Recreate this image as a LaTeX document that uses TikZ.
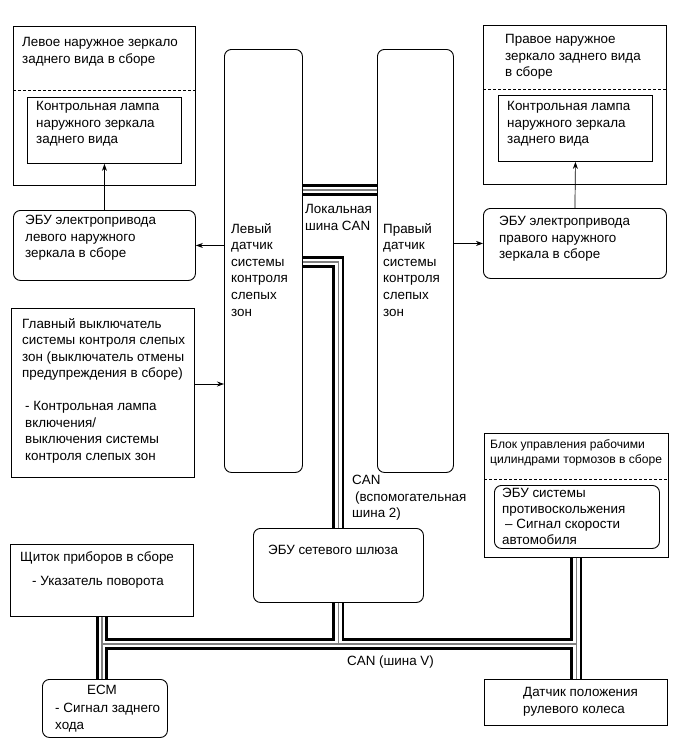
\documentclass[tikz,border=0pt]{standalone}
\usepackage{fontspec}
\setmainfont{Liberation Sans}
\usetikzlibrary{calc,arrows.meta}

\tikzset{
  box/.style={draw, line width=0.9pt, anchor=north west, inner sep=0pt},
  rbox/.style={box, rounded corners=7pt},
  txt/.style={anchor=north west, inner sep=0pt, align=left, font=\fontsize{13.4}{16.6}\selectfont},
  tighttxt/.style={txt, font=\fontsize{13.4}{15.6}\selectfont},
  smalltxt/.style={txt, font=\fontsize{12.1}{15.5}\selectfont},
  sep/.style={dash pattern=on 3pt off 2pt, line width=0.8pt},
  link/.style={->, line width=0.7pt},
}

\begin{document}
\begin{tikzpicture}[x=1pt,y=-1pt,>={Stealth[length=7pt,width=5pt]}]
        \useasboundingbox (0,0) rectangle (690,756);

        % --- 1. Units ---
        \node[box, minimum width=182pt, minimum height=159pt] (lmirror) at (13,26) {};
        \node[box, minimum width=154pt, minimum height=66pt] (llamp) at (27,97) {};
        \node[rbox, minimum width=182pt, minimum height=70pt] (lecu) at (13,210) {};
        \node[rbox, minimum width=78pt, minimum height=423pt] (lbsm) at (224,49) {};
        \node[rbox, minimum width=76pt, minimum height=423pt] (rbsm) at (377,49) {};
        \node[box, minimum width=183pt, minimum height=159pt] (rmirror) at (483,25) {};
        \node[box, minimum width=154pt, minimum height=66pt] (rlamp) at (498,95) {};
        \node[rbox, minimum width=183pt, minimum height=70pt] (recu) at (483,208) {};
        \node[box, minimum width=183pt, minimum height=169pt] (sw) at (11,308) {};
        \node[rbox, minimum width=170pt, minimum height=74pt] (gw) at (253,528) {};
        \node[box, minimum width=183pt, minimum height=72pt] (cluster) at (10,544) {};
        \node[rbox, minimum width=125pt, minimum height=58pt] (ecm) at (42,679) {};
        \node[box, minimum width=184pt, minimum height=124pt] (brake) at (484,433) {};
        \node[rbox, minimum width=165pt, minimum height=63pt] (abs) at (494,485) {};
        \node[box, minimum width=183pt, minimum height=46pt] (steer) at (484,679) {};

        % Dashed separators
        \coordinate (ldash) at (0,90);
        \coordinate (rdash) at (0,89);
        \coordinate (bdash) at (0,479);
        \draw[sep] (lmirror.west |- ldash) -- (lmirror.east |- ldash);
        \draw[sep] (rmirror.west |- rdash) -- (rmirror.east |- rdash);
        \draw[sep] (brake.west |- bdash) -- (brake.east |- bdash);

        % --- 2. Texts ---
        \node[txt] (lmirrortxt) at (22,37) {Левое наружное зеркало\\заднего вида в сборе};
        \node[txt] (llamptxt) at (36,101) {Контрольная лампа\\наружного зеркала\\заднего вида};
        \node[txt] (lecutxt) at (25,215) {ЭБУ электропривода\\левого наружного\\зеркала в сборе};
        \node[txt] (lbsmtxt) at (231,223) {Левый\\датчик\\системы\\контроля\\слепых\\зон};
        \node[txt] (rbsmtxt) at (383,223) {Правый\\датчик\\системы\\контроля\\слепых\\зон};
        \node[txt] (rmirrortxt) at (505,34) {Правое наружное\\зеркало заднего вида\\в сборе};
        \node[txt] (rlamptxt) at (507,101) {Контрольная лампа\\наружного зеркала\\заднего вида};
        \node[txt] (recutxt) at (499,216) {ЭБУ электропривода\\правого наружного\\зеркала в сборе};
        \node[txt] (swtxt) at (22,318) {Главный выключатель\\системы контроля слепых\\зон (выключатель отмены\\предупреждения в сборе)};
        \node[txt] (swlamptxt) at (25,401) {- Контрольная лампа\\включения/\\выключения системы\\контроля слепых зон};
        \node[txt] (lcantxt) at (305,204) {Локальная\\шина CAN};
        \node[txt] (subtxt) at (352,475) {CAN\\\hspace{3pt}(вспомогательная\\шина 2)};
        \node[txt] (gwtxt) at (268,545) {ЭБУ сетевого шлюза};
        \node[smalltxt] (braketxt) at (490,439) {Блок управления рабочими\\цилиндрами тормозов в сборе};
        \node[tighttxt] (abstxt) at (502,488) {ЭБУ системы\\противоскольжения\\\hspace{3pt}– Сигнал скорости\\автомобиля};
        \node[txt] (clustertxt) at (20,551) {Щиток приборов в сборе};
        \node[txt] (turntxt) at (32,576) {- Указатель поворота};
        \node[txt, anchor=north] (ecmtitle) at (102,685) {ECM};
        \node[txt] (ecmtxt) at (55,703) {- Сигнал заднего\\хода};
        \node[txt] (canvtxt) at (347,656) {CAN (шина V)};
        \node[txt] (steertxt) at (523,687) {Датчик положения\\рулевого колеса};

        % --- 3. Signal lines ---
        \coordinate (swarr) at (0,384);
        \draw[link] (lecu.north) -- (llamp.south);
        \draw[link] (recu.north) -- (rlamp.south);
        \draw[link] (lbsm.west |- lecu.east) -- (lecu.east);
        \draw[link] (rbsm.east |- recu.west) -- (recu.west);
        \draw[link] (sw.east |- swarr) -- (lbsm.west |- swarr);

        % --- 4. CAN buses (black, white gap, grey core) ---
        \coordinate (lcan) at (0,190);
        \coordinate (sub2) at (0,262);
        \coordinate (canv) at (0,644);
        \foreach \w/\c in {12/black, 6.5/white, 1.3/gray} {
          \draw[line width=\w pt, \c] (lbsm.east |- lcan) -- (rbsm.west |- lcan);
          \draw[line width=\w pt, \c] (lbsm.east |- sub2) -- (gw.north |- sub2) -- (gw.north);
          \draw[line width=\w pt, \c] (gw.south) -- (gw.south |- canv);
          \draw[line width=\w pt, \c] (cluster.south) -- (cluster.south |- ecm.north);
          \draw[line width=\w pt, \c] (brake.south) -- (brake.south |- steer.north);
          \draw[line width=\w pt, \c] (cluster.south |- canv) -- (brake.south |- canv);
        }

\end{tikzpicture}
\end{document}
